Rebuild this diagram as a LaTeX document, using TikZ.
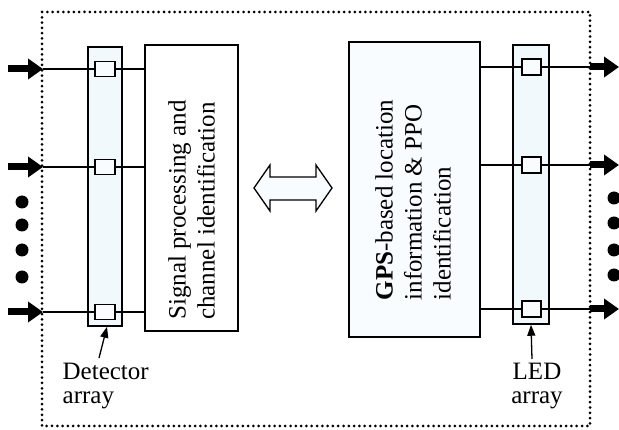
\documentclass[tikz,border=0pt]{standalone}
\usepackage{fontspec}
\setmainfont{Liberation Serif}
\usetikzlibrary{arrows.meta}
\definecolor{palefill}{RGB}{242,249,252}
\definecolor{boxfill}{RGB}{248,252,255}

\begin{document}
\begin{tikzpicture}[x=1pt, y=-1pt, line width=1.3pt,
    bar/.style = {draw, line width=1.5pt, fill=palefill, minimum width=34pt, minimum height=279pt, inner sep=0pt},
    cell/.style = {draw, line width=1.5pt, fill=boxfill, minimum width=20pt, minimum height=15pt, inner sep=0pt},
    block/.style = {draw, line width=1.6pt, inner sep=0pt},
    txt/.style = {rotate=90, align=left, inner sep=0pt, font=\fontsize{25}{29}\selectfont},
    lbl/.style = {inner sep=0pt, font=\fontsize{25}{24}\selectfont},
    fat/.style = {line width=7pt, -{Triangle[length=15pt, width=20pt]}},
    pointer/.style = {-{Triangle[length=11pt, width=8pt]}},
    bullet/.style = {circle, fill, inner sep=0pt, minimum size=13pt},
    border/.style = {line width=3pt, dash pattern=on 0pt off 5.3pt, line cap=round}]
    \useasboundingbox (0,0) rectangle (619,430);

    % dotted enclosure
    \draw[border] (42,12) rectangle (590,426);

    % arrays and processing blocks
    \node[bar] (detbar) at (105,186.5) {};
    \node[bar, minimum width=36pt] (ledbar) at (531,184.5) {};
    \node[block, fill=white, minimum width=93pt, minimum height=286pt] (sigbox) at (191.5,188) {};
    \node[block, fill=boxfill, minimum width=131pt, minimum height=295pt] (gpsbox) at (414.5,189.5) {};

    \node[txt] (sigtext) at (191.5,210) {Signal processing and\\channel identification};
    \node[txt] (gpstext) at (413,200) {\textbf{GPS}-based location\\information \& PPO\\identification};

    % input side
    \foreach \y/\n in {69/1, 167/2, 312/3} {
        \node[cell] (det\n) at (105,\y) {};
        \coordinate (src\n) at (8,\y);
        \coordinate (in\n) at (43,\y);
        \draw (in\n) -- (det\n.west);
        \draw (det\n.east) -- (det\n.east -| sigbox.west);
        \draw[fat] (src\n) -- (in\n);
    }

    % output side
    \foreach \y/\n in {67/1, 165/2, 309/3} {
        \node[cell, minimum width=19pt, minimum height=16pt] (led\n) at (531.5,\y) {};
        \coordinate (out\n) at (590,\y);
        \coordinate (tip\n) at (619,\y);
        \draw (led\n.west -| gpsbox.east) -- (led\n.west);
        \draw (led\n.east) -- (out\n);
        \draw[fat] (out\n) -- (tip\n);
    }

    \foreach \y in {202, 225, 250, 277}
        \node[bullet] (ldot\y) at (22,\y) {};
    \foreach \y in {198, 223, 250, 275}
        \node[bullet] (rdot\y) at (614,\y) {};

    % two-way link
    \draw[line width=1.3pt, fill=boxfill] (254,188) -- (270,165) -- (270,177) -- (316,177) -- (316,165)
        -- (332,188) -- (316,211) -- (316,200) -- (270,200) -- (270,211) -- cycle;

    % labels
    \node[lbl, align=left, anchor=north west] (detlbl) at (62,362) {Detector\\array};
    \node[lbl, align=center, anchor=north] (ledlbl) at (537,362) {LED\\array};
    \draw[pointer] (detlbl.north west) ++(37,-4) -- ([xshift=2pt]detbar.south);
    \draw[pointer] (ledlbl.north) ++(-5,-3) -- (ledbar.south);
\end{tikzpicture}
\end{document}
